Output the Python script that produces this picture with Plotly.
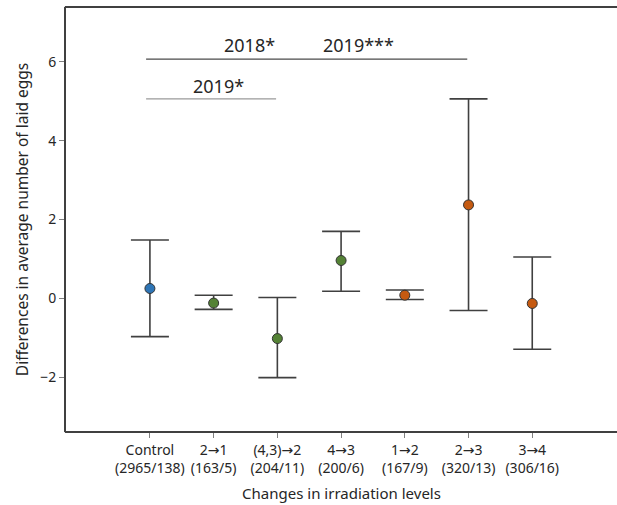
import plotly.graph_objects as go

categories = ["Control<br>(2965/138)", "2→1<br>(163/5)", "(4,3)→2<br>(204/11)",
              "4→3<br>(200/6)", "1→2<br>(167/9)", "2→3<br>(320/13)", "3→4<br>(306/16)"]
means = [0.25, -0.12, -1.02, 0.96, 0.08, 2.37, -0.13]
upper = [1.48, 0.08, 0.02, 1.70, 0.21, 5.06, 1.05]
lower = [-0.97, -0.28, -2.01, 0.18, -0.03, -0.31, -1.29]
groups = ["control", "down", "down", "down", "up", "up", "up"]
group_colors = {"control": "#2E75B6", "down": "#548235", "up": "#C55A11"}

sig_lines = [
    {"y": 6.07, "x0": -0.06, "x1": 4.98, "color": "#4a4a4a"},
    {"y": 5.06, "x0": -0.06, "x1": 1.98, "color": "#9a9a9a"},
]
sig_labels = [
    {"text": "2018*", "x": 1.57, "y": 6.43},
    {"text": "2019***", "x": 3.28, "y": 6.43},
    {"text": "2019*", "x": 1.07, "y": 5.38},
]

xs = list(range(len(categories)))
err_plus = [u - m for u, m in zip(upper, means)]
err_minus = [m - l for m, l in zip(means, lower)]

fig = go.Figure()
fig.add_trace(go.Scatter(
    x=xs, y=means, mode="markers",
    marker=dict(size=10, color=[group_colors[g] for g in groups],
                line=dict(color="#333333", width=1)),
    error_y=dict(type="data", symmetric=False, array=err_plus, arrayminus=err_minus,
                 color="#404040", thickness=1.6, width=19),
    showlegend=False, hoverinfo="skip",
))

for s in sig_lines:
    fig.add_shape(type="line", xref="x", yref="y", x0=s["x0"], x1=s["x1"],
                  y0=s["y"], y1=s["y"], line=dict(color=s["color"], width=1.3))
for a in sig_labels:
    fig.add_annotation(x=a["x"], y=a["y"], xref="x", yref="y", text=a["text"],
                       showarrow=False, font=dict(size=18, color="#262626"))

# frame lines (top and bottom) running off the right edge of the picture
for yy in (0, 1):
    fig.add_shape(type="line", xref="paper", yref="paper", x0=-0.002, x1=1.1,
                  y0=yy, y1=yy, line=dict(color="#404040", width=2))

font_family = "Noto Sans, Open Sans, DejaVu Sans"
fig.update_layout(
    width=617, height=505, autosize=False,
    margin=dict(l=66, r=0, t=7, b=73, pad=0),
    plot_bgcolor="white", paper_bgcolor="white",
    font=dict(family=font_family, color="#262626", size=14),
)
fig.update_xaxes(
    range=[-1.317, 7.33], tickvals=xs, ticktext=categories,
    showgrid=False, zeroline=False, automargin=False,
    showline=False,
    ticks="outside", ticklen=5, tickcolor="#808080",
    tickfont=dict(size=14),
    title=dict(text="Changes in irradiation levels", font=dict(size=15), standoff=12),
)
fig.update_yaxes(
    range=[-3.39, 7.39], tickvals=[-2, 0, 2, 4, 6], ticktext=["−2", "0", "2", "4", "6"],
    showgrid=False, zeroline=False, automargin=False,
    showline=True, linecolor="#404040", linewidth=2,
    ticks="outside", ticklen=5, tickcolor="#808080",
    tickfont=dict(size=14),
    title=dict(text="Differences in average number of laid eggs", font=dict(size=15.5), standoff=8),
)
fig.write_html("out.html", config={"displayModeBar": False, "responsive": False})

with open("out.html", "r", encoding="utf-8") as f:
    html = f.read()
html = html.replace("<head>", "<head><style>html,body{margin:0;padding:0;overflow:hidden}</style>", 1)
with open("out.html", "w", encoding="utf-8") as f:
    f.write(html)
